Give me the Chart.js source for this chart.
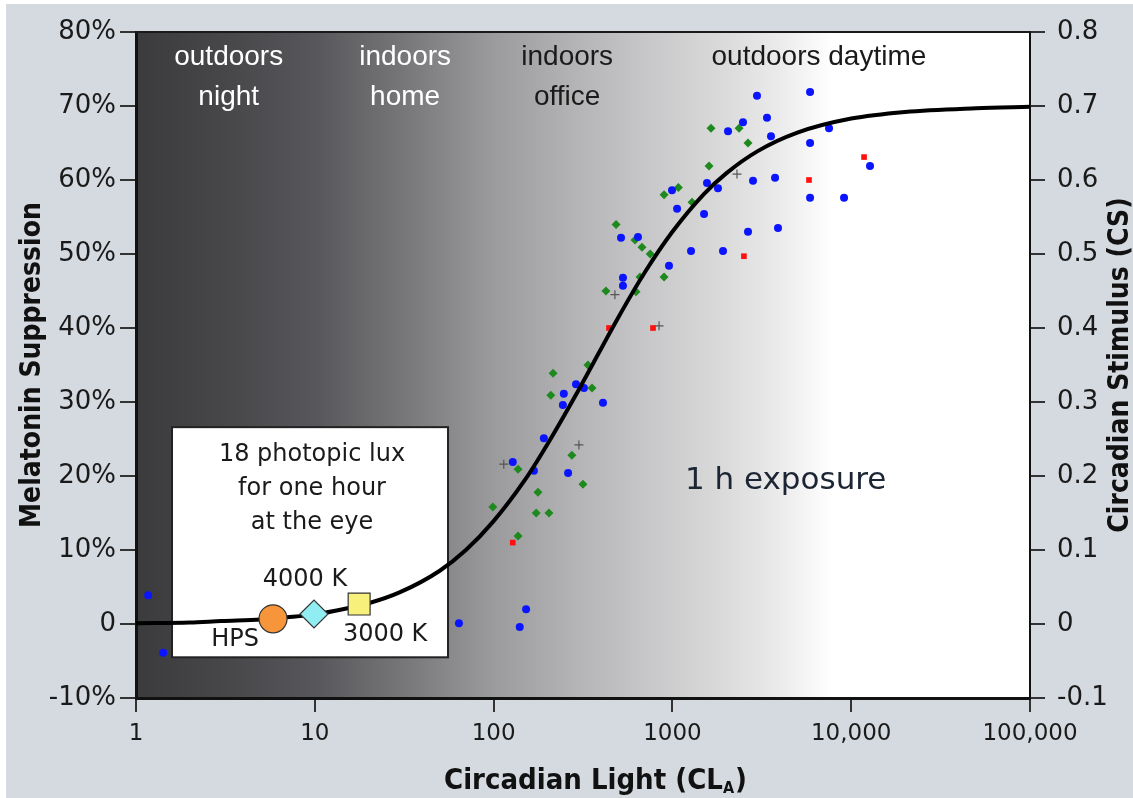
<!DOCTYPE html>
<html>
<head>
<meta charset="utf-8">
<script src="https://cdn.jsdelivr.net/npm/chart.js@4.4.1/dist/chart.umd.min.js"></script>
<style>
html, body { margin: 0; padding: 0; background: #ffffff; }
canvas { display: block; }
</style>
</head>
<body>
<canvas id="lightChart" width="1133" height="798"></canvas>
<script>
// tick values and labels
const xTickValues = [1, 10, 100, 1000, 10000, 100000];
const xTickLabels = ['1', '10', '100', '1000', '10,000', '100,000'];
const yTickValues = [-10, 0, 10, 20, 30, 40, 50, 60, 70, 80];
const yTickLabels = ['-10%', '0', '10%', '20%', '30%', '40%', '50%', '60%', '70%', '80%'];
const csTickValues = [-0.1, 0, 0.1, 0.2, 0.3, 0.4, 0.5, 0.6, 0.7, 0.8];
const csTickLabels = ['-0.1', '0', '0.1', '0.2', '0.3', '0.4', '0.5', '0.6', '0.7', '0.8'];

// fitted curve (CL_A vs % suppression)
const curveX = [1, 2, 3, 5, 7, 10, 15, 20, 30, 50, 70, 100, 150, 200, 300, 500, 700, 1000, 1500, 2000, 3000, 5000, 10000, 20000, 50000, 100000];
const curveY = [0.1, 0.2, 0.4, 0.6, 0.9, 1.3, 2.1, 2.8, 4.3, 7.2, 10.0, 13.9, 19.5, 24.3, 31.7, 41.5, 47.5, 53.0, 58.1, 60.9, 63.9, 66.4, 68.3, 69.2, 69.7, 69.9];

// measured points
const blueX = [1.17, 1.42, 64, 140, 152, 128, 168, 191, 261, 244, 247, 289, 320, 409, 516, 642, 529, 529, 957, 995, 1062,
  2972, 5888, 2482, 2047, 3381, 3560, 7516, 5888, 12740, 1561, 1798, 2824, 3750, 1503, 5888, 9120, 2648, 3896, 1271, 1919];
const blueY = [3.9, -3.9, 0.1, -0.4, 2.0, 21.9, 20.7, 25.1, 20.4, 29.6, 31.1, 32.4, 31.9, 29.9, 52.2, 52.3, 46.8, 45.7, 48.4, 58.6, 56.1,
  71.4, 71.9, 67.8, 66.6, 68.4, 65.9, 67.0, 65.0, 61.9, 59.6, 58.9, 59.9, 60.3, 55.4, 57.6, 57.6, 53.0, 53.5, 50.4, 50.4];

const greenX = [99, 137, 137, 173, 177, 204, 209, 215, 274, 316, 337, 355, 425, 484, 618, 626, 659, 676, 751, 898, 898, 1080, 1288, 1603, 1644, 2360, 2648];
const greenY = [15.8, 11.9, 20.9, 15.0, 17.8, 15.0, 30.9, 33.9, 22.8, 18.9, 35.0, 31.9, 45.0, 54.0, 51.9, 44.9, 46.9, 50.9, 50.0, 46.9, 58.0, 59.0, 57.0, 61.9, 67.0, 67.0, 65.0];

const redX = [128, 442, 779, 2512, 5807, 11800];
const redY = [11.0, 40.0, 40.0, 49.7, 60.0, 63.1];

const plusX = [114, 300, 477, 842, 2297];
const plusY = [21.6, 24.2, 44.5, 40.3, 60.8];

// 18 photopic lux sources
const lampNames = ['HPS', '4000 K', '3000 K'];
const lampX = [5.84, 9.9, 17.7];
const lampY = [0.7, 1.35, 2.7];

// text in the figure
const regionLines = [['outdoors', 'night'], ['indoors', 'home'], ['indoors', 'office'], ['outdoors daytime']];
const boxLines = ['18 photopic lux', 'for one hour', 'at the eye'];

function pts(xs, ys) {
    return xs.map((x, i) => ({ x: x, y: ys[i] }));
}

const TICK_FONT = '"DejaVu Sans", Verdana, sans-serif';
const TITLE_FONT = 'bold 28px "DejaVu Sans Condensed", "Liberation Sans Narrow", "DejaVu Sans", sans-serif';

// background, inset box and all the free text
const decor = {
    id: 'decor',
    beforeDraw(chart) {
        const ctx = chart.ctx;
        const a = chart.chartArea;
        ctx.save();
        ctx.fillStyle = '#ffffff';
        ctx.fillRect(0, 0, chart.width, chart.height);
        ctx.fillStyle = '#d5d9e0';
        ctx.fillRect(6, 4, chart.width, chart.height);
        const g = ctx.createLinearGradient(a.left, 0, a.right, 0);
        g.addColorStop(0, '#3b3b3d');
        g.addColorStop(0.10, '#47474a');
        g.addColorStop(0.20, '#57575b');
        g.addColorStop(0.30, '#777779');
        g.addColorStop(0.40, '#9b9b9d');
        g.addColorStop(0.50, '#b6b6b8');
        g.addColorStop(0.58, '#c9c9cb');
        g.addColorStop(0.66, '#dbdbdb');
        g.addColorStop(0.72, '#ebebeb');
        g.addColorStop(0.78, '#ffffff');
        g.addColorStop(1, '#ffffff');
        ctx.fillStyle = g;
        ctx.fillRect(a.left, a.top, a.right - a.left, a.bottom - a.top);
        ctx.restore();
    },
    beforeDatasetsDraw(chart) {
        const ctx = chart.ctx;
        const xs = chart.scales.x, ys = chart.scales.y;
        const l = xs.getPixelForValue(1.59), r = xs.getPixelForValue(55.6);
        const t = ys.getPixelForValue(26.6), b = ys.getPixelForValue(-4.5);
        ctx.save();
        ctx.fillStyle = '#ffffff';
        ctx.fillRect(l, t, r - l, b - t);
        ctx.strokeStyle = '#222222';
        ctx.lineWidth = 2;
        ctx.strokeRect(l, t, r - l, b - t);
        ctx.fillStyle = '#1a1a1a';
        ctx.font = '24px ' + TICK_FONT;
        ctx.textAlign = 'center';
        ctx.textBaseline = 'middle';
        const cx = (l + r) / 2 + 2;
        boxLines.forEach((s, i) => ctx.fillText(s, cx, t + 28 + i * 34));
        ctx.restore();
    },
    afterDraw(chart) {
        const ctx = chart.ctx;
        const a = chart.chartArea;
        const xs = chart.scales.x, ys = chart.scales.y;
        ctx.save();
        // top frame line
        ctx.strokeStyle = '#1a1a1a';
        ctx.lineWidth = 2;
        ctx.beginPath();
        ctx.moveTo(a.left, a.top);
        ctx.lineTo(a.right, a.top);
        ctx.stroke();

        // region labels
        ctx.font = '28px "Liberation Sans", Arial, sans-serif';
        ctx.textAlign = 'center';
        ctx.textBaseline = 'middle';
        const regionAt = [3.3, 32, 258, 6600];
        const regionColor = ['#ffffff', '#ffffff', '#1a1a1a', '#1a1a1a'];
        regionLines.forEach((lines, i) => {
            ctx.fillStyle = regionColor[i];
            const px = xs.getPixelForValue(regionAt[i]);
            lines.forEach((s, j) => ctx.fillText(s, px, ys.getPixelForValue(76.6 - j * 5.4)));
        });

        // lamp labels
        ctx.font = '24px ' + TICK_FONT;
        ctx.fillStyle = '#1a1a1a';
        const lampOff = [[-38, 21], [-9, -34], [26, 31]];
        lampNames.forEach((s, i) => {
            ctx.fillText(s, xs.getPixelForValue(lampX[i]) + lampOff[i][0], ys.getPixelForValue(lampY[i]) + lampOff[i][1]);
        });

        // exposure note
        ctx.font = '31px ' + TICK_FONT;
        ctx.fillStyle = '#1c2533';
        ctx.fillText('1 h exposure', xs.getPixelForValue(4300), ys.getPixelForValue(19.3));

        // axis titles
        ctx.fillStyle = '#111111';
        ctx.font = TITLE_FONT;
        ctx.save();
        ctx.translate(33, (a.top + a.bottom) / 2);
        ctx.rotate(-Math.PI / 2);
        ctx.fillText('Melatonin Suppression', 0, 0);
        ctx.restore();
        ctx.save();
        ctx.translate(1121, (a.top + a.bottom) / 2);
        ctx.rotate(-Math.PI / 2);
        ctx.fillText('Circadian Stimulus (CS)', 0, 0);
        ctx.restore();

        // x title with subscript A
        const bigFont = TITLE_FONT.replace('28px', '29px');
        const subFont = TITLE_FONT.replace('28px', '16px');
        ctx.font = bigFont;
        const main = 'Circadian Light (CL';
        const w1 = ctx.measureText(main).width;
        const w3 = ctx.measureText(')').width;
        ctx.font = subFont;
        const w2 = ctx.measureText('A').width;
        const x0 = 444;
        const base = 789;
        ctx.textAlign = 'left';
        ctx.textBaseline = 'alphabetic';
        ctx.font = bigFont;
        ctx.fillText(main, x0, base);
        ctx.font = subFont;
        ctx.fillText('A', x0 + w1, base + 4);
        ctx.font = bigFont;
        ctx.fillText(')', x0 + w1 + w2 + 1, base);
        ctx.restore();
    }
};

function fixTicks(values) {
    return scale => { scale.ticks = values.map(v => ({ value: v })); };
}

const ctx = document.getElementById('lightChart').getContext('2d');
const chart = new Chart(ctx, {
    type: 'scatter',
    data: {
        datasets: [
            {
                label: 'lamps',
                data: pts(lampX, lampY),
                pointStyle: ['circle', 'rectRot', 'rect'],
                pointRadius: [14, 14, 15.5],
                backgroundColor: ['#f7953b', '#90eef2', '#f7f07a'],
                borderColor: '#333333',
                borderWidth: 1.2,
                order: 1
            },
            {
                label: 'fit',
                data: pts(curveX, curveY),
                showLine: true,
                cubicInterpolationMode: 'monotone',
                borderColor: '#000000',
                borderWidth: 4,
                pointRadius: 0,
                order: 2
            },
            {
                label: 'blue',
                data: pts(blueX, blueY),
                pointStyle: 'circle',
                pointRadius: 4,
                backgroundColor: '#0a14ff',
                borderWidth: 0,
                order: 3
            },
            {
                label: 'green',
                data: pts(greenX, greenY),
                pointStyle: 'rectRot',
                pointRadius: 4.5,
                backgroundColor: '#1e8a1e',
                borderWidth: 0,
                order: 3
            },
            {
                label: 'red',
                data: pts(redX, redY),
                pointStyle: 'rect',
                pointRadius: 4,
                backgroundColor: '#ff1010',
                borderWidth: 0,
                order: 3
            },
            {
                label: 'plus',
                data: pts(plusX, plusY),
                pointStyle: 'cross',
                pointRadius: 4.5,
                borderColor: '#555555',
                borderWidth: 1.2,
                order: 3
            }
        ]
    },
    options: {
        responsive: false,
        animation: false,
        events: [],
        layout: { padding: { top: 32, left: 0, right: 0, bottom: 0 } },
        plugins: { legend: { display: false }, tooltip: { enabled: false } },
        scales: {
            x: {
                type: 'logarithmic',
                min: 1,
                max: 100000,
                afterBuildTicks: fixTicks(xTickValues),
                afterFit: s => { s.height = 100; },
                ticks: {
                    color: '#1a1a1a',
                    font: { family: TICK_FONT, size: 23 },
                    padding: 8,
                    maxRotation: 0,
                    callback: (v, i) => xTickLabels[i]
                },
                grid: { drawOnChartArea: false, tickLength: 14, color: '#333333', lineWidth: 2 },
                border: { display: true, color: '#111111', width: 3 }
            },
            y: {
                position: 'left',
                min: -10,
                max: 80,
                afterBuildTicks: fixTicks(yTickValues),
                afterFit: s => { s.width = 136; },
                ticks: {
                    color: '#1a1a1a',
                    font: { family: TICK_FONT, size: 26 },
                    padding: 4,
                    callback: (v, i) => yTickLabels[i]
                },
                grid: { drawOnChartArea: false, tickLength: 16, color: '#333333', lineWidth: 2 },
                border: { display: true, color: '#111111', width: 3 }
            },
            cs: {
                position: 'right',
                min: -0.1,
                max: 0.8,
                afterBuildTicks: fixTicks(csTickValues),
                afterFit: s => { s.width = 103; },
                ticks: {
                    color: '#1a1a1a',
                    font: { family: TICK_FONT, size: 26 },
                    padding: 12,
                    callback: (v, i) => csTickLabels[i]
                },
                grid: { drawOnChartArea: false, tickLength: 15, color: '#333333', lineWidth: 2 },
                border: { display: true, color: '#111111', width: 2 }
            }
        }
    },
    plugins: [decor]
});
</script>
</body>
</html>
